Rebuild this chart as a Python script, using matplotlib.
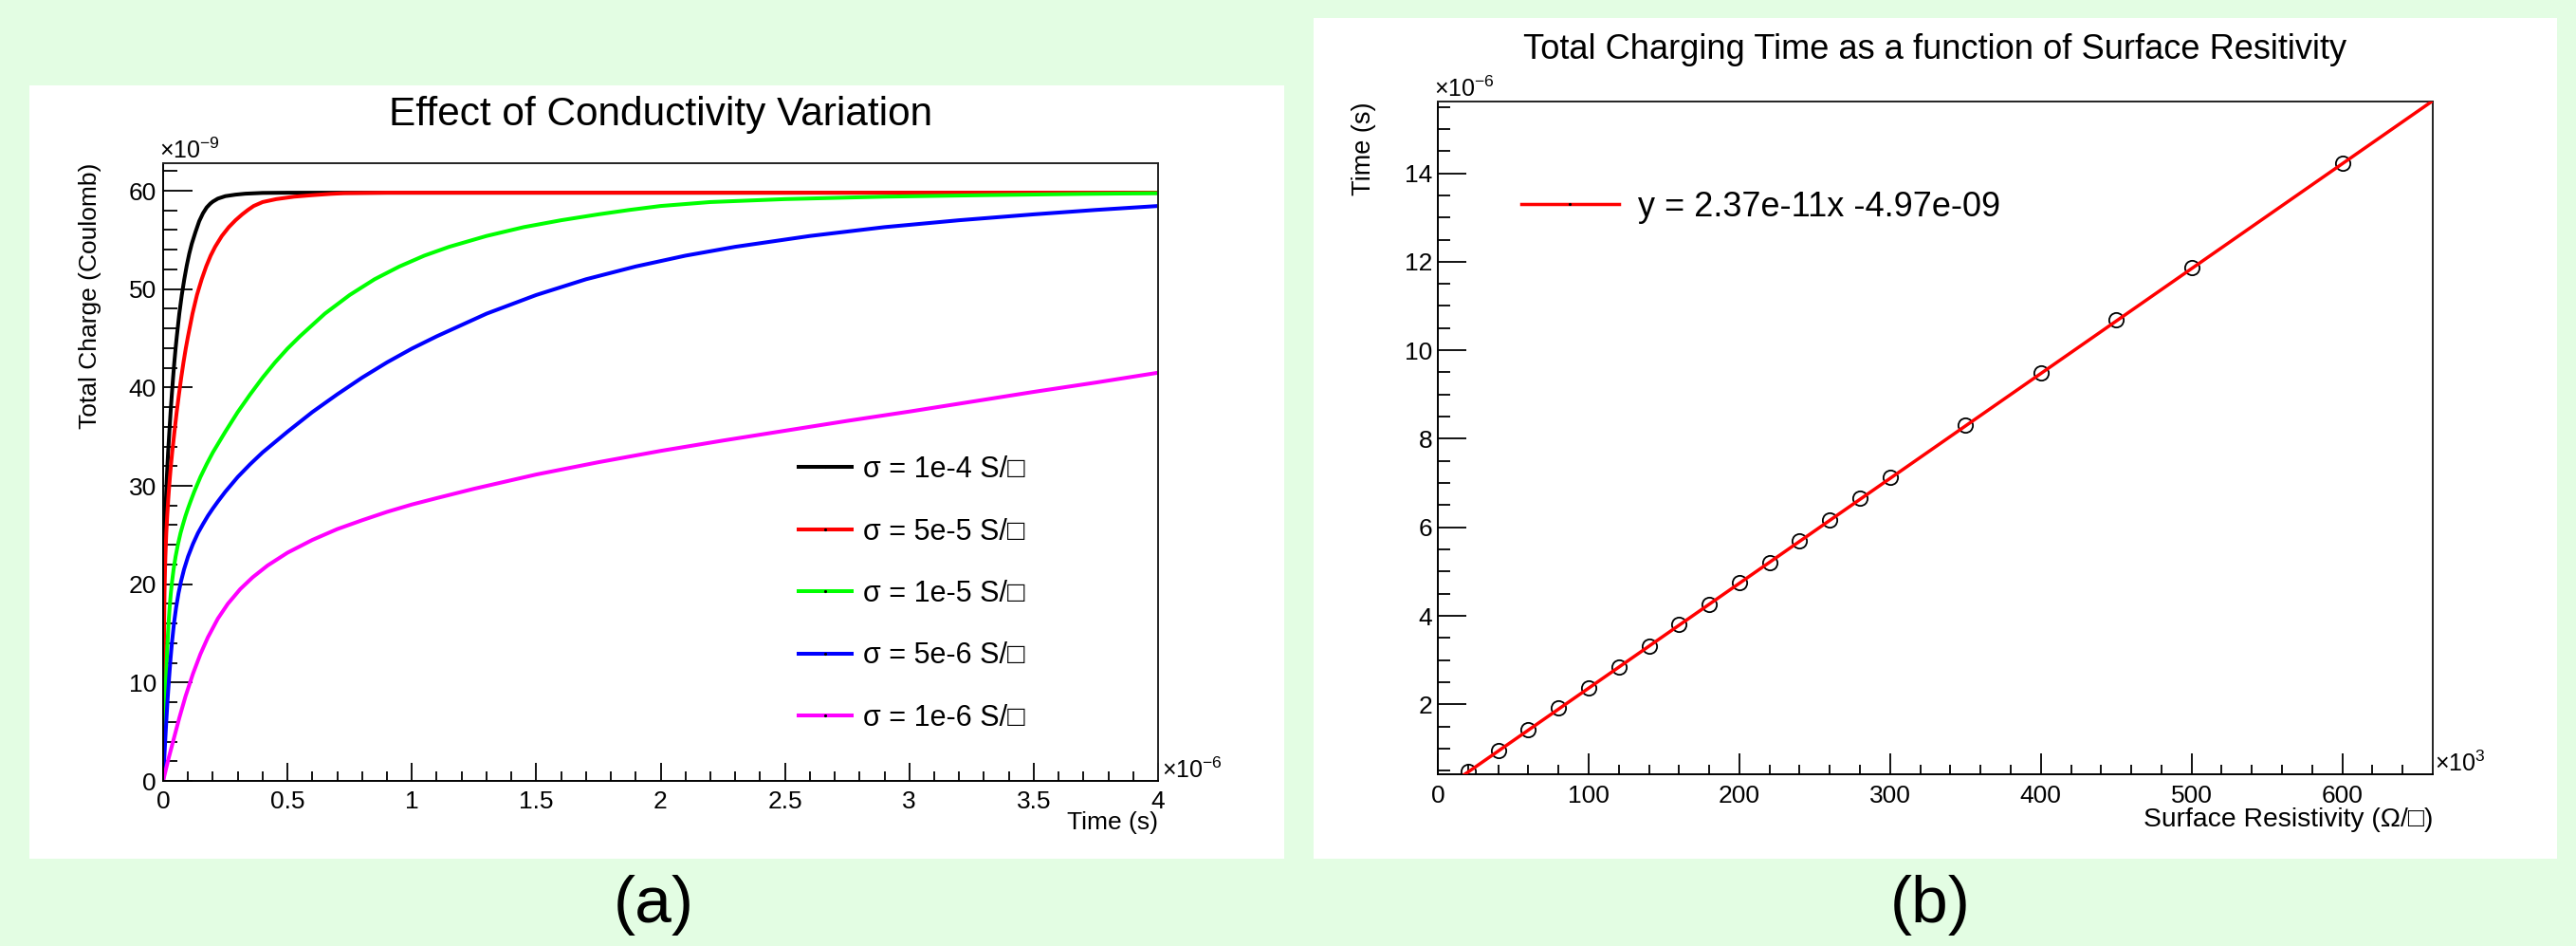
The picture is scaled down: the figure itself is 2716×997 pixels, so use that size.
import matplotlib
matplotlib.use('Agg')
import matplotlib.pyplot as plt
from matplotlib.patches import Rectangle
from matplotlib.lines import Line2D
from matplotlib.ticker import MultipleLocator, FuncFormatter

plt.rcParams['font.family'] = ['Liberation Sans', 'DejaVu Sans']
plt.rcParams['mathtext.fontset'] = 'custom'
plt.rcParams['mathtext.rm'] = 'Liberation Sans'
plt.rcParams['mathtext.it'] = 'Liberation Sans:italic'
plt.rcParams['mathtext.bf'] = 'Liberation Sans:bold'

# ---------------- data: panel (a) ----------------
# time in units of 1e-6 s, charge in units of 1e-9 C
t_s1 = [0, 0.0004, 0.0009, 0.0015, 0.0022, 0.0031, 0.0042, 0.005, 0.007, 0.009,
        0.011, 0.0125, 0.015, 0.0175, 0.02, 0.025, 0.03, 0.035, 0.04, 0.045, 0.05,
        0.055, 0.065, 0.075, 0.085, 0.095, 0.105, 0.115, 0.13, 0.145, 0.16, 0.175,
        0.19, 0.2, 0.22, 0.25, 0.29, 0.33, 0.4, 0.5, 4.0]
q_s1 = [0, 4.2, 8.3, 12.5, 16.1, 19.1, 21.5, 22.8, 25.2, 26.95,
        28.4, 29.4, 30.9, 32.2, 33.4, 35.5, 37.5, 39.3, 41.0, 42.55, 43.95,
        45.2, 47.5, 49.4, 51.0, 52.4, 53.6, 54.6, 55.8, 56.9, 57.7, 58.3,
        58.7, 58.9, 59.2, 59.45, 59.6, 59.7, 59.78, 59.8, 59.8]

t_s2 = [0, 0.0008, 0.0016, 0.0027, 0.004, 0.0056, 0.0076, 0.0091, 0.0127, 0.0164,
        0.02, 0.0227, 0.0273, 0.0318, 0.0364, 0.0455, 0.0545, 0.0636, 0.0727,
        0.0818, 0.0909, 0.1, 0.118, 0.136, 0.155, 0.173, 0.191, 0.209, 0.236,
        0.264, 0.291, 0.318, 0.341, 0.364, 0.4, 0.455, 0.527, 0.6, 0.673, 0.727,
        0.9, 4.0]
q_s2 = [0, 4.2, 8.3, 12.5, 16.1, 19.1, 21.5, 22.8, 25.2, 26.95,
        28.4, 29.4, 30.9, 32.2, 33.4, 35.5, 37.5, 39.3, 41.0,
        42.55, 43.95, 45.2, 47.5, 49.4, 51.0, 52.3, 53.4, 54.3, 55.4,
        56.3, 57.0, 57.6, 58.05, 58.45, 58.85, 59.15, 59.4, 59.55, 59.68, 59.75,
        59.8, 59.8]

t_s3 = [0, 0.002, 0.0043, 0.0065, 0.009, 0.012, 0.015, 0.018, 0.022, 0.026, 0.031,
        0.036, 0.042, 0.05, 0.06, 0.07, 0.08, 0.09, 0.1, 0.11, 0.125, 0.15, 0.175,
        0.2, 0.25, 0.3, 0.35, 0.4, 0.45, 0.5, 0.55, 0.65, 0.75, 0.85, 0.95, 1.05,
        1.15, 1.3, 1.45, 1.6, 1.75, 1.875, 2.0, 2.2, 2.5, 2.9, 3.3, 3.7, 4.0]
q_s3 = [0, 2.0, 4.2, 6.2, 8.3, 10.5, 12.5, 14.2, 16.1, 17.6, 19.1,
        20.3, 21.5, 22.8, 24.1, 25.2, 26.1, 26.95, 27.7, 28.4, 29.4, 30.9, 32.2,
        33.4, 35.5, 37.5, 39.3, 41.0, 42.55, 43.95, 45.2, 47.5, 49.4, 51.0, 52.3,
        53.4, 54.3, 55.4, 56.3, 57.0, 57.6, 58.05, 58.45, 58.85, 59.15, 59.4,
        59.55, 59.68, 59.75]

t_s4 = [0, 0.004, 0.0086, 0.013, 0.018, 0.024, 0.03, 0.036, 0.044, 0.052, 0.062,
        0.072, 0.084, 0.1, 0.12, 0.14, 0.16, 0.18, 0.2, 0.22, 0.25, 0.3, 0.35, 0.4,
        0.5, 0.6, 0.7, 0.8, 0.9, 1.0, 1.1, 1.3, 1.5, 1.7, 1.9, 2.1, 2.3, 2.6, 2.9,
        3.2, 3.5, 3.75, 4.0]
q_s4 = [0, 2.0, 4.2, 6.2, 8.3, 10.5, 12.5, 14.2, 16.1, 17.6, 19.1,
        20.3, 21.5, 22.8, 24.1, 25.2, 26.1, 26.95, 27.7, 28.4, 29.4, 30.9, 32.2, 33.4,
        35.5, 37.5, 39.3, 41.0, 42.55, 43.95, 45.2, 47.5, 49.4, 51.0, 52.3, 53.4,
        54.3, 55.4, 56.3, 57.0, 57.6, 58.05, 58.45]

t_s5 = [0, 0.02, 0.043, 0.065, 0.09, 0.12, 0.15, 0.18, 0.22, 0.26, 0.31, 0.36, 0.42,
        0.5, 0.6, 0.7, 0.8, 0.9, 1.0, 1.1, 1.25, 1.5, 1.75, 2.0, 2.25, 2.5, 2.75,
        3.0, 3.25, 3.5, 3.75, 4.0]
q_s5 = [0, 2.1, 4.3, 6.4, 8.6, 10.9, 12.9, 14.6, 16.5, 18.0, 19.5, 20.7, 21.9,
        23.2, 24.5, 25.6, 26.5, 27.35, 28.1, 28.75, 29.7, 31.15, 32.4, 33.55, 34.6,
        35.6, 36.6, 37.55, 38.55, 39.55, 40.5, 41.5]

series_labels = ['σ = 1e-4 S/□', 'σ = 5e-5 S/□', 'σ = 1e-5 S/□',
                 'σ = 5e-6 S/□', 'σ = 1e-6 S/□']
series_colors = ['#000000', '#ff0000', '#00ff00', '#0000ff', '#ff00ff']

# ---------------- data: panel (b) ----------------
resistivity = [20, 40, 60, 80, 100, 120, 140, 160, 180, 200, 220, 240, 260, 280,
               300, 350, 400, 450, 500, 600]          # x 1e3 Ohm/sq
charge_time = [0.48, 0.95, 1.43, 1.91, 2.37, 2.85, 3.32, 3.80, 4.26, 4.75, 5.21,
               5.70, 6.17, 6.65, 7.12, 8.31, 9.48, 10.68, 11.87, 14.23]  # x 1e-6 s
fit_slope = 2.37e-11       # s per Ohm/sq
fit_intercept = -4.97e-09  # s
fit_range = [0, 660]       # x 1e3 Ohm/sq
fit_label = 'y = 2.37e-11x -4.97e-09'

# ---------------- figure ----------------
W, H, DPI = 2716, 997, 100
BG = '#e3fde3'
fig = plt.figure(figsize=(W / DPI, H / DPI), dpi=DPI, facecolor=BG)


def fx(px):
    return px / W


def fy(py):
    return 1 - py / H


# white pads (behind axes)
for x0, y0, x1, y1 in [(31, 90, 1354, 905), (1385, 19, 2696, 905)]:
    fig.add_artist(Rectangle((fx(x0), fy(y1)), (x1 - x0) / W, (y1 - y0) / H,
                             transform=fig.transFigure, facecolor='white',
                             edgecolor='none', zorder=-10))

TICK_FS = 19
fmt = FuncFormatter(lambda v, p: f'{v:g}')

# ---------- panel (a) ----------
ax1 = fig.add_axes([fx(172), fy(823), (1221 - 172) / W, (823 - 172) / H])
ax1.set_facecolor('white')
curves = [(t_s1, q_s1), (t_s2, q_s2), (t_s3, q_s3), (t_s4, q_s4), (t_s5, q_s5)]
handles = []
for (tt, qq), c in zip(curves, series_colors):
    ax1.plot(tt, qq, color=c, lw=2.9, solid_joinstyle='round', solid_capstyle='butt')
    handles.append(Line2D([0], [0], color=c, lw=2.9, marker='.', markersize=2.5,
                          markerfacecolor='k', markeredgecolor='k'))
ax1.set_xlim(0, 4)
ax1.set_ylim(0, 62.8)
ax1.xaxis.set_major_locator(MultipleLocator(0.5))
ax1.xaxis.set_minor_locator(MultipleLocator(0.1))
ax1.yaxis.set_major_locator(MultipleLocator(10))
ax1.yaxis.set_minor_locator(MultipleLocator(2))
ax1.xaxis.set_major_formatter(fmt)
ax1.yaxis.set_major_formatter(fmt)
ax1.tick_params(which='both', direction='in', top=False, right=False,
                labelsize=TICK_FS, width=1.3, color='black')
ax1.tick_params(axis='y', which='major', length=22, pad=5)
ax1.tick_params(axis='y', which='minor', length=11)
ax1.tick_params(axis='x', which='major', length=14, pad=7)
ax1.tick_params(axis='x', which='minor', length=7)
for s in ax1.spines.values():
    s.set_linewidth(1.4)
ax1.spines['top'].set_color('#222222')
ax1.spines['right'].set_color('#222222')

ax1.legend(handles, series_labels, loc='center left',
           bbox_to_anchor=((842 - 172) / 1049, (823 - 626) / 651),
           frameon=False, fontsize=22, handlelength=1.83, handletextpad=0.4,
           labelspacing=1.16, borderpad=0, borderaxespad=0, numpoints=1)

fig.text((172 + 1221) / 2 / W, fy(132), 'Effect of Conductivity Variation',
         ha='center', va='baseline', fontsize=30.5)
fig.text(fx(95), fy(172), 'Total Charge (Coulomb)', rotation=90,
         ha='center', va='top', fontsize=19)
fig.text(fx(1221), fy(855), 'Time (s)', ha='right', va='top', fontsize=19)
fig.text(fx(168), fy(167), r'$\times10^{-9}$', ha='left', va='baseline', fontsize=18)
fig.text(fx(1225), fy(820), r'$\times10^{-6}$', ha='left', va='baseline', fontsize=18)
fig.text(fx(689), fy(972), '(a)', ha='center', va='baseline', fontsize=50)

# ---------- panel (b) ----------
ax2 = fig.add_axes([fx(1516), fy(816), (2565 - 1516) / W, (816 - 107) / H])
ax2.set_facecolor('white')
ax2.plot(resistivity, charge_time, linestyle='none', marker='o', markersize=11,
         markerfacecolor='none', markeredgecolor='black', markeredgewidth=1.3, zorder=2)
fit_y = [(fit_slope * x * 1e3 + fit_intercept) * 1e6 for x in fit_range]
ax2.plot(fit_range, fit_y, color='#ff0000', lw=2.5, zorder=3)
ax2.set_xlim(0, 660)
ax2.set_ylim(0.42, 15.62)
ax2.xaxis.set_major_locator(MultipleLocator(100))
ax2.xaxis.set_minor_locator(MultipleLocator(20))
ax2.yaxis.set_major_locator(MultipleLocator(2))
ax2.yaxis.set_minor_locator(MultipleLocator(0.5))
ax2.xaxis.set_major_formatter(fmt)
ax2.yaxis.set_major_formatter(fmt)
ax2.tick_params(which='both', direction='in', top=False, right=False,
                labelsize=TICK_FS, width=1.3, color='black')
ax2.tick_params(axis='y', which='major', length=21.5, pad=4)
ax2.tick_params(axis='y', which='minor', length=9.5)
ax2.tick_params(axis='x', which='major', length=16, pad=8)
ax2.tick_params(axis='x', which='minor', length=7.5)
for s in ax2.spines.values():
    s.set_linewidth(1.4)
ax2.spines['top'].set_color('#222222')
ax2.spines['right'].set_color('#222222')

fit_handle = Line2D([0], [0], color='#ff0000', lw=2.5, marker='.', markersize=2.5,
                    markerfacecolor='k', markeredgecolor='k')
ax2.legend([fit_handle], [fit_label], loc='center left',
           bbox_to_anchor=((1604 - 1516) / 1049, (816 - 218) / 709),
           frameon=False, fontsize=26, handlelength=2.85, handletextpad=0.55,
           borderpad=0, borderaxespad=0, numpoints=1)

fig.text((1516 + 2565) / 2 / W, fy(62),
         'Total Charging Time as a function of Surface Resitivity',
         ha='center', va='baseline', fontsize=26.1)
fig.text(fx(1438), fy(108), 'Time (s)', rotation=90, ha='center', va='top', fontsize=19.5)
fig.text(fx(2565), fy(851), 'Surface Resistivity (Ω/□)', ha='right', va='top',
         fontsize=20.3)
fig.text(fx(1512), fy(102), r'$\times10^{-6}$', ha='left', va='baseline', fontsize=18)
fig.text(fx(2567), fy(813), r'$\times10^{3}$', ha='left', va='baseline', fontsize=18)
fig.text(fx(2035), fy(972), '(b)', ha='center', va='baseline', fontsize=50)

fig.savefig('out.png', dpi=DPI, facecolor=BG)
